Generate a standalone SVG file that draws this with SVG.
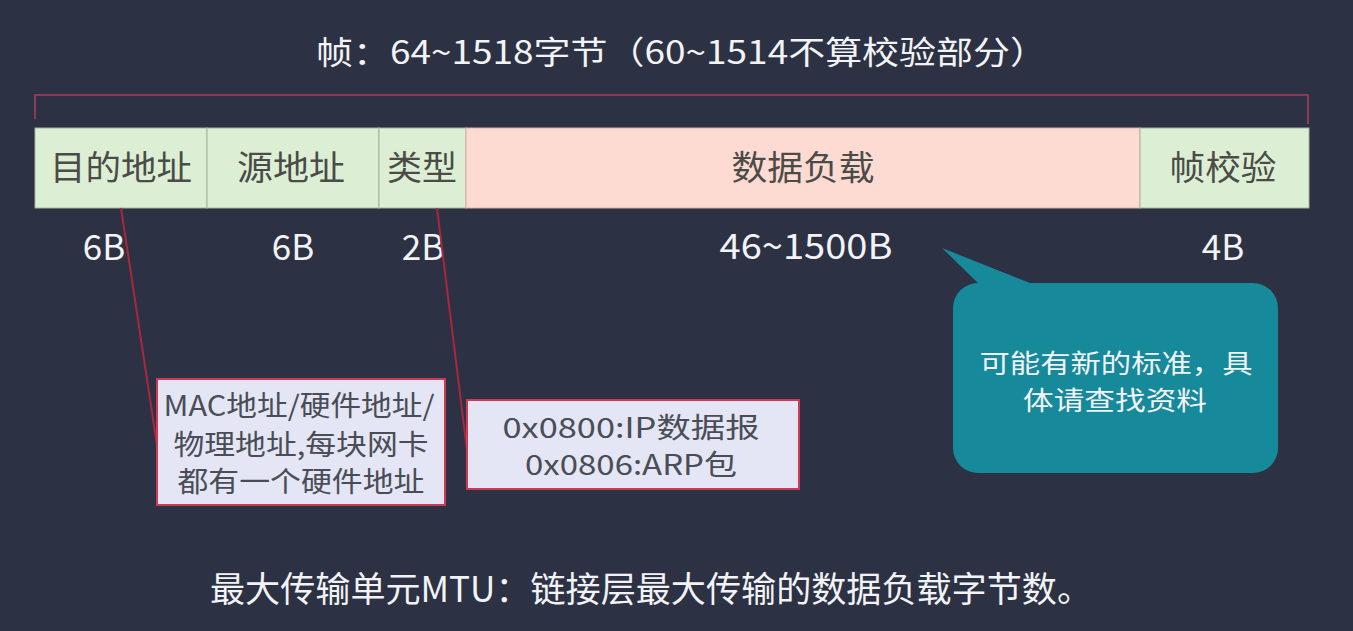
<svg xmlns="http://www.w3.org/2000/svg" width="1353" height="631" viewBox="0 0 1353 631">
<style>
.bg{fill:#2c3144}
.t{font-family:"Noto Sans CJK SC","Noto Sans",sans-serif}
.white{fill:#f2f3f5}
.cell{stroke:#a6b49c;stroke-width:1}
.green{fill:#dcefd4}
.pink{fill:#fddbd3}
.ct{fill:#4b4b47;font-size:34px;text-anchor:middle}
.sz{fill:#f2f3f5;font-size:35px;text-anchor:middle}
.note{fill:#e4e6f5;stroke:#cf3a52;stroke-width:2}
.nt{fill:#4a4d55;font-size:28px;text-anchor:middle}
.conn{stroke:#a8283f;stroke-width:2;fill:none}
.bracket{stroke:#8a3b55;stroke-width:2;fill:none}
</style>
<rect class="bg" x="0" y="0" width="1353" height="631"/>

<g id="title">
<text class="t white" x="316" y="64" font-size="32" textLength="731" lengthAdjust="spacingAndGlyphs">帧：64~1518字节（60~1514不算校验部分）</text>
</g>

<g id="bracket">
<path class="bracket" d="M35,119 V95 H1308 V124"/>
</g>

<g id="field-dst">
<rect class="cell green" x="35" y="128" width="172" height="80"/>
<text class="t ct" x="121" y="180" textLength="142" lengthAdjust="spacingAndGlyphs">目的地址</text>
<text class="t sz" x="104" y="260">6B</text>
</g>
<g id="field-src">
<rect class="cell green" x="207" y="128" width="172" height="80"/>
<text class="t ct" x="291" y="180" textLength="108" lengthAdjust="spacingAndGlyphs">源地址</text>
<text class="t sz" x="293" y="260">6B</text>
</g>
<g id="field-type">
<rect class="cell green" x="379" y="128" width="87" height="80"/>
<text class="t ct" x="422" y="180" textLength="70" lengthAdjust="spacingAndGlyphs">类型</text>
<text class="t sz" x="423" y="260">2B</text>
</g>
<g id="field-payload">
<rect class="pink" x="466" y="128" width="674" height="80" stroke="#e0b0a6" stroke-width="1"/>
<text class="t ct" x="803" y="180" textLength="143" lengthAdjust="spacingAndGlyphs">数据负载</text>
<text class="t sz" x="806" y="259" textLength="173" lengthAdjust="spacingAndGlyphs">46~1500B</text>
</g>
<g id="field-fcs">
<rect class="cell green" x="1140" y="128" width="169" height="80"/>
<text class="t ct" x="1223" y="180" textLength="107" lengthAdjust="spacingAndGlyphs">帧校验</text>
<text class="t sz" x="1223" y="260">4B</text>
</g>

<g id="connectors">
<line class="conn" x1="121" y1="208" x2="157" y2="445"/>
<line class="conn" x1="437" y1="208" x2="467" y2="450"/>
</g>

<g id="note-mac">
<rect class="note" x="157" y="379" width="288" height="126"/>
<text class="t nt" x="299" y="416" textLength="271" lengthAdjust="spacingAndGlyphs">MAC地址/硬件地址/</text>
<text class="t nt" x="301" y="455" textLength="255" lengthAdjust="spacingAndGlyphs">物理地址,每块网卡</text>
<text class="t nt" x="301" y="492" textLength="247" lengthAdjust="spacingAndGlyphs">都有一个硬件地址</text>
</g>

<g id="note-type">
<rect class="note" x="467" y="400" width="332" height="89"/>
<text class="t nt" x="631" y="438" font-size="25" textLength="257" lengthAdjust="spacingAndGlyphs">0x0800:IP数据报</text>
<text class="t nt" x="631" y="475" font-size="25" textLength="212" lengthAdjust="spacingAndGlyphs">0x0806:ARP包</text>
</g>

<g id="callout">
<path fill="#16899b" d="M978,283 L942,248 L1030,283 H1253 A25,25 0 0 1 1278,308 V448 A25,25 0 0 1 1253,473 H978 A25,25 0 0 1 953,448 V308 A25,25 0 0 1 978,283 Z"/>
<text class="t white" x="1116" y="373" font-size="26" text-anchor="middle" textLength="273" lengthAdjust="spacingAndGlyphs">可能有新的标准，具</text>
<text class="t white" x="1115" y="410" font-size="26" text-anchor="middle" textLength="184" lengthAdjust="spacingAndGlyphs">体请查找资料</text>
</g>

<g id="footer">
<text class="t white" x="210" y="602" font-size="35" textLength="882" lengthAdjust="spacingAndGlyphs">最大传输单元MTU：链接层最大传输的数据负载字节数。</text>
</g>
</svg>
